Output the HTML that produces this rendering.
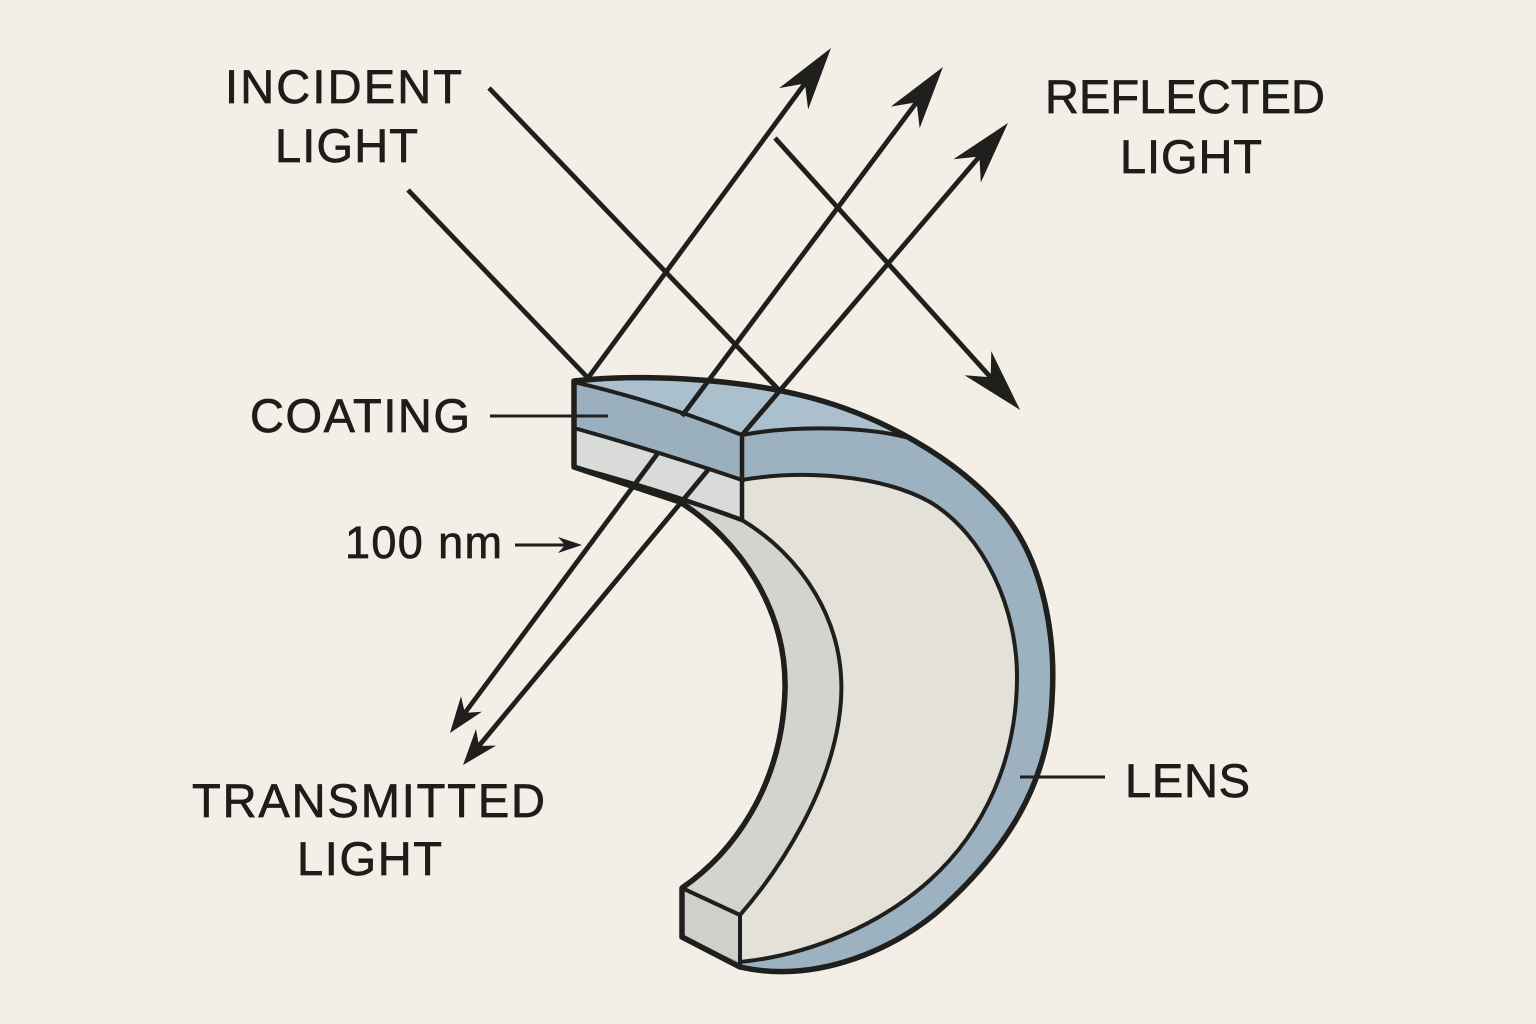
<!DOCTYPE html>
<html>
<head>
<meta charset="utf-8">
<style>
  html,body{margin:0;padding:0;background:#f3efe6;}
  svg{display:block;}
  text{font-family:"Liberation Sans", Arial, sans-serif; fill:#1d1d1b; stroke:#1d1d1b; stroke-width:0.7px;}
</style>
</head>
<body>
<svg width="1536" height="1024" viewBox="0 0 1536 1024" xmlns="http://www.w3.org/2000/svg">
  <defs>
    <marker id="big" markerUnits="userSpaceOnUse" markerWidth="10" markerHeight="10" refX="-30" refY="0" orient="auto" overflow="visible">
      <path d="M0,0 L-63,-18 L-44,0 L-63,18 Z" fill="#1f1f1d"/>
    </marker>
    <marker id="small" markerUnits="userSpaceOnUse" markerWidth="10" markerHeight="10" refX="-18" refY="0" orient="auto" overflow="visible">
      <path d="M0,0 L-36,-13 L-25,0 L-36,13 Z" fill="#1f1f1d"/>
    </marker>
    <marker id="tiny" markerUnits="userSpaceOnUse" markerWidth="10" markerHeight="10" refX="-10" refY="0" orient="auto" overflow="visible">
      <path d="M0,0 L-24,-8 L-17,0 L-24,8 Z" fill="#1f1f1d"/>
    </marker>
  </defs>

  <rect x="0" y="0" width="1536" height="1024" fill="#f3efe6"/>

  <!-- Lens silhouette (blue rim fill) -->
  <path d="M574,381 C640,374 730,378 800,395 C880,414 960,460 1005,515 C1045,565 1056,640 1052,700 C1048,790 1000,855 943,907 C900,946 820,985 740,967 L682,937 L682,888 C730,855 782,790 785,690 C787,610 740,540 680,502 L574,467 Z" fill="#9db2c1"/>

  <!-- Beige lens face -->
  <path d="M742,480 C800,470 880,474 930,502 C985,535 1018,610 1017,680 C1016,760 985,830 930,880 C880,925 810,955 740,962 L740,915 C775,875 835,790 841,700 C846,620 800,555 742,520 Z" fill="#e4e2d8"/>

  <!-- Inner side surface (gray) -->
  <path d="M680,502 L742,520 C800,555 846,620 841,700 C835,790 775,875 740,915 L682,888 C730,855 782,790 785,690 C787,610 740,540 680,502 Z" fill="#d3d4cd"/>

  <!-- Bottom box face -->
  <path d="M682,888 L740,915 L740,962 L682,937 Z" fill="#cfd0cb"/>

  <!-- Top face (lighter blue) -->
  <path d="M574,382 C640,374 730,378 800,395 C840,404 875,418 905,437 C870,428 800,424 742,435 Q660,402 574,382 Z" fill="#abc0cd"/>

  <!-- Front cut face: coating band -->
  <path d="M574,382 Q660,402 742,435 L742,480 Q660,452 574,428 Z" fill="#9bb0bf"/>
  <!-- Front cut face: lens body -->
  <path d="M574,428 Q660,452 742,480 L742,520 Q660,490 574,467 Z" fill="#d9dbd8"/>

  <!-- Internal edges -->
  <g fill="none" stroke="#1f1f1d" stroke-linejoin="round" stroke-linecap="round">
    <path d="M742,435 C800,424 870,428 905,437" stroke-width="4"/>
    <path d="M574,382 Q660,402 742,435" stroke-width="4"/>
    <path d="M574,428 Q660,452 742,480" stroke-width="4"/>
    <path d="M574,467 Q660,490 742,520" stroke-width="4.5"/>
    <path d="M742,435 L742,520" stroke-width="4.5"/>
    <path d="M742,480 C800,470 880,474 930,502 C985,535 1018,610 1017,680 C1016,760 985,830 930,880 C880,925 810,955 740,962" stroke-width="4"/>
    <path d="M742,520 C800,555 846,620 841,700 C835,790 775,875 740,915" stroke-width="4"/>
    <path d="M682,888 L740,915 L740,964" stroke-width="4"/>
  </g>

  <!-- Silhouette outline -->
  <path d="M574,381 C640,374 730,378 800,395 C880,414 960,460 1005,515 C1045,565 1056,640 1052,700 C1048,790 1000,855 943,907 C900,946 820,985 740,967 L682,937 L682,888 C730,855 782,790 785,690 C787,610 740,540 680,502 L574,467 Z" fill="none" stroke="#1f1f1d" stroke-width="5.5" stroke-linejoin="round"/>

  <!-- Rays -->
  <g fill="none" stroke="#1f1f1d" stroke-width="4.8" stroke-linecap="butt">
    <line x1="408" y1="190" x2="588" y2="378"/>
    <line x1="489" y1="88" x2="779" y2="390"/>
    <line x1="588" y1="378" x2="813.2" y2="72.2" marker-end="url(#big)"/>
    <line x1="682" y1="416" x2="925" y2="91" marker-end="url(#big)"/>
    <line x1="742" y1="435" x2="988.5" y2="145.8" marker-end="url(#big)"/>
    <line x1="775" y1="138" x2="1000" y2="387.7" marker-end="url(#big)"/>
    <line x1="658" y1="453" x2="460.7" y2="718.5" marker-end="url(#small)"/>
    <line x1="708" y1="470" x2="474.5" y2="751.2" marker-end="url(#small)"/>
  </g>

  <!-- Leaders -->
  <g stroke="#1f1f1d" stroke-width="3" fill="none">
    <line x1="490" y1="416" x2="608" y2="416"/>
    <line x1="1020" y1="777" x2="1105" y2="777"/>
    <line x1="515" y1="545" x2="572" y2="545" marker-end="url(#tiny)"/>
  </g>

  <!-- Labels -->
  <text x="225" y="103" font-size="47" textLength="237" lengthAdjust="spacing">INCIDENT</text>
  <text x="275" y="162" font-size="47" textLength="143" lengthAdjust="spacing">LIGHT</text>
  <text x="1045" y="113" font-size="47" textLength="280" lengthAdjust="spacing">REFLECTED</text>
  <text x="1120" y="173" font-size="47" textLength="142" lengthAdjust="spacing">LIGHT</text>
  <text x="250" y="432" font-size="47" textLength="220" lengthAdjust="spacing">COATING</text>
  <text x="345" y="558" font-size="45" textLength="157" lengthAdjust="spacing">100 nm</text>
  <text x="192" y="817" font-size="47" textLength="353" lengthAdjust="spacing">TRANSMITTED</text>
  <text x="297" y="875" font-size="47" textLength="145" lengthAdjust="spacing">LIGHT</text>
  <text x="1125" y="797" font-size="47" textLength="125" lengthAdjust="spacing">LENS</text>
</svg>
</body>
</html>
